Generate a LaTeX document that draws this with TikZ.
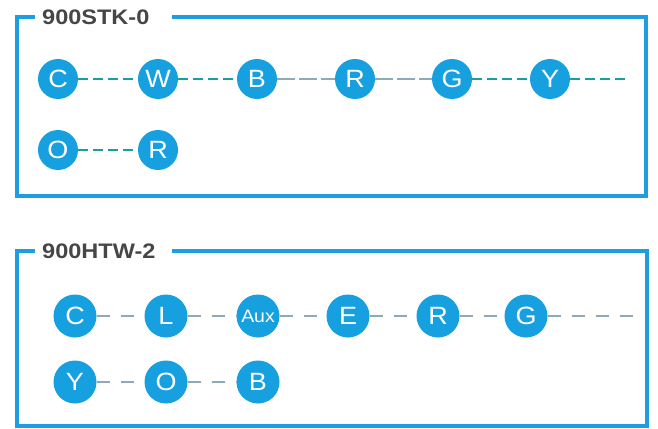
\documentclass[tikz,border=0pt]{standalone}
\usepackage{fontspec}
\setmainfont{Liberation Sans}
\newfontfamily\titlefont[FakeStretch=1.12]{Liberation Sans}
\newfontfamily\nodefont[FakeStretch=1.08]{Liberation Sans}
\definecolor{boxblue}{RGB}{30,158,224}
\definecolor{nodeblue}{RGB}{22,160,224}
\definecolor{teal}{RGB}{24,160,160}
\definecolor{thin}{RGB}{140,170,185}
\definecolor{titlegray}{RGB}{70,70,70}
\tikzset{
  frame/.style={draw=boxblue, line width=4.5pt},
  title/.style={anchor=base west, inner sep=0pt, text=titlegray, font=\titlefont\bfseries\fontsize{21}{21}\selectfont},
  dot/.style={circle, fill=nodeblue, inner sep=0pt, text=white},
  dotA/.style={dot, minimum size=40pt, font=\nodefont\fontsize{25}{25}\selectfont},
  dotB/.style={dot, minimum size=43pt, font=\nodefont\fontsize{25}{25}\selectfont},
  tealedge/.style={draw=teal, line width=2.4pt, dash pattern=on 10pt off 5pt},
  thinedge/.style={draw=thin, line width=1.1pt, dash pattern=on 18pt off 4pt},
  gapedge/.style={draw=thin, line width=1.1pt, dash pattern=on 13pt off 11pt},
}
\begin{document}
\begin{tikzpicture}[x=1pt,y=-1pt]
\useasboundingbox (0,0) rectangle (658,428);
\fill[white] (0,0) rectangle (658,428);
% top box
\draw[frame] (35,17) -- (17,17) -- (17,196) -- (646,196) -- (646,17) -- (172,17);
\node[title] (t1) at (42,25) {900STK-0};
\node[dotA] (c1) at (58,79) {C};
\node[dotA] (w1) at (158,79) {W};
\node[dotA] (b1) at (257,79) {B};
\node[dotA] (r1) at (355,79) {R};
\node[dotA] (g1) at (452,79) {G};
\node[dotA] (y1) at (550,79) {Y};
\coordinate (e1) at (626,79);
\node[dotA] (o1) at (58,150) {O};
\node[dotA] (k1) at (158,150) {R};
\draw[tealedge] (c1) -- (w1);
\draw[tealedge] (w1) -- (b1);
\draw[thinedge] (b1) -- (r1);
\draw[thinedge] (r1) -- (g1);
\draw[tealedge] (g1) -- (y1);
\draw[tealedge] (y1) -- (e1);
\draw[tealedge] (o1) -- (k1);
% bottom box
\draw[frame] (35,251) -- (17,251) -- (17,426) -- (647,426) -- (647,251) -- (172,251);
\node[title] (t2) at (42,258) {900HTW-2};
\node[dotB] (c2) at (75,316) {C};
\node[dotB] (l2) at (166,316) {L};
\node[dotB, font=\nodefont\fontsize{18}{18}\selectfont] (a2) at (258,316) {Aux};
\node[dotB] (e2) at (348,316) {E};
\node[dotB] (r2) at (438,316) {R};
\node[dotB] (g2) at (526,316) {G};
\coordinate (x2) at (636,316);
\node[dotB] (y2) at (75,382) {Y};
\node[dotB] (o2) at (166,382) {O};
\node[dotB] (b2) at (258,382) {B};
\draw[gapedge] (c2) -- (l2);
\draw[gapedge] (l2) -- (a2);
\draw[gapedge] (a2) -- (e2);
\draw[gapedge] (e2) -- (r2);
\draw[gapedge] (r2) -- (g2);
\draw[gapedge] (g2) -- (x2);
\draw[gapedge] (y2) -- (o2);
\draw[gapedge] (o2) -- (b2);
\end{tikzpicture}
\end{document}
